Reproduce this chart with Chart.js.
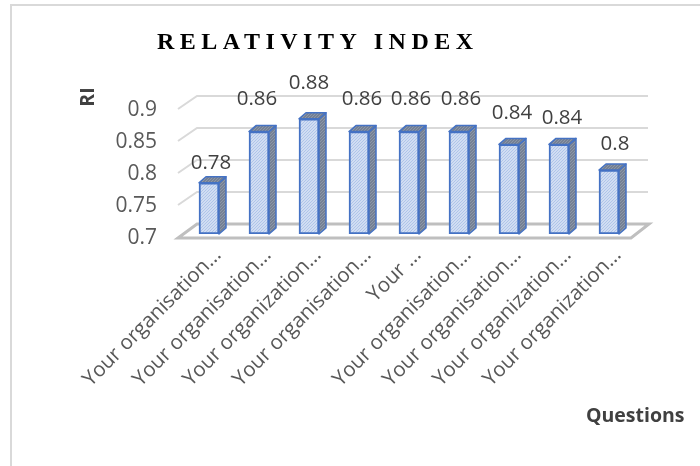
<!DOCTYPE html>
<html>
<head>
<meta charset="utf-8">
<style>
  html, body { margin: 0; padding: 0; background: #fff; }
  canvas { display: block; }
</style>
<script src="https://cdn.jsdelivr.net/npm/chart.js@4"></script>
</head>
<body>
<canvas id="chart" width="700" height="466"></canvas>
<script>
const categories = [
  "Your organisation...", "Your organisation...", "Your organization...",
  "Your organisation...", "Your ...", "Your organisation...",
  "Your organisation...", "Your organization...", "Your organization..."
];
const riValues = [0.78, 0.86, 0.88, 0.86, 0.86, 0.86, 0.84, 0.84, 0.8];
const yTicks = [0.7, 0.75, 0.8, 0.85, 0.9];
// the labels were nudged by hand in the original, so they don't sit evenly
const labelShiftX = [2, -2, 0, 3, 2, 2, 3, 3, 6];
const labelShiftY = [-20, -32, -36, -32, -32, -32, -31, -26, -26];

const BLUE = "#4472c4";
const FONT = '"Open Sans", sans-serif';

function hatch(bg, fg) {
  const c = document.createElement("canvas");
  c.width = c.height = 3;
  const g = c.getContext("2d");
  g.fillStyle = bg;
  g.fillRect(0, 0, 3, 3);
  g.strokeStyle = fg;
  g.lineWidth = 1.1;
  g.beginPath();
  g.moveTo(-1, 4); g.lineTo(4, -1);
  g.moveTo(-1, 1); g.lineTo(1, -1);
  g.moveTo(2, 4); g.lineTo(4, 2);
  g.stroke();
  return g.createPattern(c, "repeat");
}

const ctx = document.getElementById("chart").getContext("2d");
const frontHatch = hatch("#dfe8f7", "#adc3e8");
const sideHatch = hatch("#6b778c", "#8f99a9");

function poly(g, pts) {
  g.beginPath();
  pts.forEach((p, i) => i ? g.lineTo(p[0], p[1]) : g.moveTo(p[0], p[1]));
  g.closePath();
}

// frame, walls and floor of the fake 3d box, behind the bars
const wallPlugin = {
  id: "wall",
  beforeDatasetsDraw(chart) {
    const g = chart.ctx, y = chart.scales.y, a = chart.chartArea;
    g.save();
    g.strokeStyle = "#d9d9d9";
    g.lineWidth = 2;
    g.beginPath();
    g.moveTo(11, 466);
    g.lineTo(11, 5);
    g.lineTo(700, 5);
    g.stroke();
    yTicks.slice(1).forEach(v => {
      const p = y.getPixelForValue(v);
      g.beginPath();
      g.moveTo(a.left - 6, p + 3);
      g.lineTo(a.left + 13, p - 10);
      g.lineTo(a.right + 14, p - 10);
      g.stroke();
    });
    const p0 = y.getPixelForValue(yTicks[0]);
    g.strokeStyle = "#bfbfbf";
    g.lineWidth = 3;
    poly(g, [[a.left - 6, p0 + 4], [a.left + 13, p0 - 10], [a.right + 15, p0 - 10], [a.right - 3, p0 + 4]]);
    g.stroke();
    g.restore();
  }
};

// side + top faces of each bar, then the value labels
const facesPlugin = {
  id: "faces",
  afterDatasetsDraw(chart) {
    const g = chart.ctx;
    const dx = 7, dy = 6;
    g.save();
    chart.getDatasetMeta(0).data.forEach((bar, i) => {
      const r = bar.x + bar.width / 2, l = bar.x - bar.width / 2;
      g.strokeStyle = BLUE;
      g.lineWidth = 1.5;
      g.lineJoin = "round";
      g.fillStyle = sideHatch;
      poly(g, [[r, bar.y], [r + dx, bar.y - dy], [r + dx, bar.base - dy], [r, bar.base]]);
      g.fill(); g.stroke();
      poly(g, [[l, bar.y], [l + dx, bar.y - dy], [r + dx, bar.y - dy], [r, bar.y]]);
      g.fill(); g.stroke();

      g.fillStyle = "#404040";
      g.font = "20.5px " + FONT;
      g.textAlign = "center";
      g.textBaseline = "middle";
      g.fillText(String(riValues[i]), bar.x + labelShiftX[i], bar.y + labelShiftY[i]);
    });
    g.restore();
  }
};

const titlesPlugin = {
  id: "titles",
  afterDraw(chart) {
    const g = chart.ctx;
    g.save();
    g.fillStyle = "#000";
    g.font = 'bold 24px "Liberation Serif", serif';
    g.letterSpacing = "5.5px";
    g.textBaseline = "middle";
    g.textAlign = "left";
    g.fillText("RELATIVITY INDEX", 157, 43);
    g.letterSpacing = "0px";
    g.fillStyle = "#404040";
    g.font = 'bold 19.5px "Open Sans", sans-serif';
    g.fillText("Questions", 586, 416);
    g.translate(88, 97);
    g.rotate(-Math.PI / 2);
    g.textAlign = "center";
    g.fillText("RI", 0, 0);
    g.restore();
  }
};

new Chart(ctx, {
  type: "bar",
  data: {
    labels: categories,
    datasets: [{
      label: "RI",
      data: riValues,
      base: 0.7,
      backgroundColor: frontHatch,
      borderColor: BLUE,
      borderWidth: 2,
      borderSkipped: false,
      barThickness: 20
    }]
  },
  options: {
    responsive: false,
    animation: false,
    layout: { padding: { left: 100, top: 106, right: 66, bottom: 0 } },
    plugins: { legend: { display: false }, tooltip: { enabled: false } },
    scales: {
      x: {
        afterFit(s) { s.height = 232; },
        grid: { display: false },
        border: { display: false },
        ticks: {
          autoSkip: false,
          minRotation: 45,
          maxRotation: 45,
          labelOffset: 9,
          padding: 1,
          color: "#595959",
          font: { family: FONT, size: 20.5 }
        }
      },
      y: {
        min: 0.7,
        max: 0.9,
        afterFit(s) { s.width = 84; },
        grid: { display: false },
        border: { display: false },
        afterBuildTicks(s) { s.ticks = yTicks.map(v => ({ value: v })); },
        ticks: {
          padding: 19,
          labelOffset: 4,
          color: "#595959",
          font: { family: FONT, size: 21 },
          callback: v => String(v)
        }
      }
    }
  },
  plugins: [wallPlugin, facesPlugin, titlesPlugin]
});
</script>
</body>
</html>
